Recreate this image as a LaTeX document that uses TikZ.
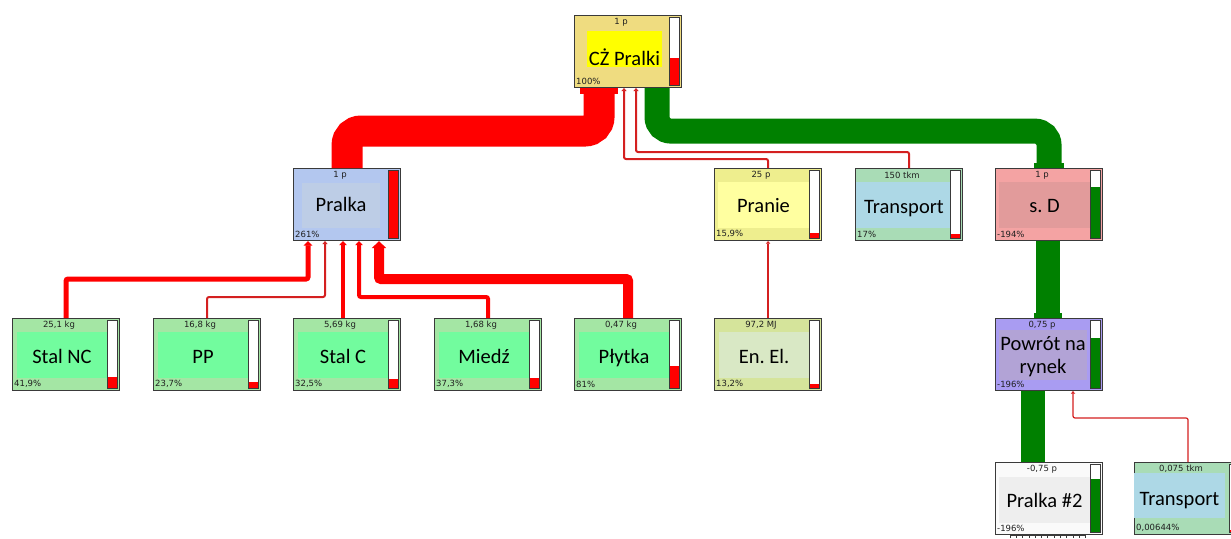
\documentclass[tikz,border=0pt]{standalone}
\usepackage{fontspec}
\usetikzlibrary{arrows.meta}
\newfontfamily\lblfont{Carlito}
\newfontfamily\smfont{DejaVu Sans}
\frenchspacing
\definecolor{bordc}{HTML}{3A3A3A}
\definecolor{czout}{HTML}{EFDC80}
\definecolor{czlbl}{HTML}{FFFF00}
\definecolor{prout}{HTML}{B3C7EF}
\definecolor{prlbl}{HTML}{BDCDE6}
\definecolor{pnout}{HTML}{EEEE8E}
\definecolor{pnlbl}{HTML}{FFFFA0}
\definecolor{trout}{HTML}{A9DCB6}
\definecolor{trlbl}{HTML}{ADD8E6}
\definecolor{sdout}{HTML}{F4A3A3}
\definecolor{sdlbl}{HTML}{E29B9B}
\definecolor{mtout}{HTML}{A4E6A4}
\definecolor{mtlbl}{HTML}{72FC9E}
\definecolor{eeout}{HTML}{D5E49B}
\definecolor{eelbl}{HTML}{D9E8C5}
\definecolor{pwout}{HTML}{A99CF2}
\definecolor{pwlbl}{HTML}{B2A3D6}
\definecolor{ptout}{HTML}{FAFAFA}
\definecolor{ptlbl}{HTML}{EEEEEE}
\definecolor{flowred}{HTML}{FF0000}
\definecolor{thinred}{HTML}{D42020}
\definecolor{flowgreen}{HTML}{008000}
\definecolor{smtxt}{HTML}{202020}
\tikzset{
  procbox/.style={rectangle, anchor=north west, minimum width=107pt, minimum height=72pt, inner sep=0pt, draw=bordc, line width=1.1pt},
  lbltext/.style={font=\lblfont\fontsize{20.5}{22}\selectfont, anchor=base, inner sep=0pt, text=black},
  amttext/.style={font=\smfont\fontsize{8.5}{9}\selectfont, inner sep=0pt, text=smtxt},
  pcttext/.style={font=\smfont\fontsize{8.5}{9}\selectfont, inner sep=0pt, anchor=west, text=smtxt},
  barframe/.style={draw=bordc, line width=1pt},
  thickflow/.style={line width=#1, -{Rectangle[length=0pt 0.2, width=0pt 1.2]}, rounded corners=14pt},
  thinflow/.style={line width=#1, -{Triangle[length=2pt 0.5, width=3pt 1.1]}, rounded corners=2pt},
}
\newcommand\setlbl[5]{\def\lx{#1}\def\ly{#2}\def\lxx{#3}\def\lyy{#4}\def\lby{#5}}
\newcommand\pbox[9]{%
  \node[procbox, fill=#3] (#1) at (#2) {};
  \begin{scope}[shift={(#1.north west)}]
    \fill[#4] (\lx,\ly) rectangle (\lxx,\lyy);
    \node[lbltext] at ({(\lx+\lxx)/2},\lby) {#6};
    \node[amttext] at (47,7) {#5};
    \node[pcttext] at (2,66) {#7};
    \fill[white] (95,2) rectangle (105,70);
    \fill[#9] (95,70) rectangle (105,{70-#8});
    \draw[barframe] (95,2) rectangle (105,70);
  \end{scope}}
\begin{document}
\begin{tikzpicture}[x=1pt, y=-1pt]
\path[use as bounding box, clip] (0,0) rectangle (1231,538);
\fill[white] (0,0) rectangle (1231,538);

% row 1
\setlbl{13}{16}{88}{52}{50}
\pbox{cz}{574,15}{czout}{czlbl}{1 p}{CŻ Pralki}{100\%}{27}{flowred}
% row 2
\setlbl{9}{15}{87}{60}{43}
\pbox{pralka}{293,168}{prout}{prlbl}{1 p}{Pralka}{261\%}{68}{flowred}
\setlbl{4}{14}{95}{60}{44}
\pbox{pranie}{714,168}{pnout}{pnlbl}{25 p}{Pranie}{15,9\%}{5}{flowred}
\setlbl{1}{14}{97}{60}{45}
\pbox{transp}{855,168}{trout}{trlbl}{150 tkm}{Transport}{17\%}{4}{flowred}
\setlbl{4}{14}{95}{60}{44}
\pbox{sd}{995,168}{sdout}{sdlbl}{1 p}{s. D}{-194\%}{51}{flowgreen}
% row 3
\setlbl{5}{14}{95}{60}{45}
\pbox{stalnc}{12,318}{mtout}{mtlbl}{25,1 kg}{Stal NC}{41,9\%}{11}{flowred}
\pbox{pp}{153,318}{mtout}{mtlbl}{16,8 kg}{PP}{23,7\%}{6}{flowred}
\pbox{stalc}{293,318}{mtout}{mtlbl}{5,69 kg}{Stal C}{32,5\%}{9}{flowred}
\pbox{miedz}{434,318}{mtout}{mtlbl}{1,68 kg}{Miedź}{37,3\%}{10}{flowred}
\pbox{plytka}{574,318}{mtout}{mtlbl}{0,47 kg}{Płytka}{81\%}{22}{flowred}
\pbox{enel}{714,318}{eeout}{eelbl}{97,2 MJ}{En. El.}{13,2\%}{4}{flowred}
\setlbl{4}{12}{92}{62}{32}
\pbox{powrot}{995,318}{pwout}{pwlbl}{0,75 p}{Powrót na}{-196\%}{50}{flowgreen}
\node[lbltext] at (1043,373) {rynek};
% row 4
\setlbl{4}{15}{95}{61}{45}
\pbox{pralkab}{995,462}{ptout}{ptlbl}{-0,75 p}{Pralka \#2}{-196\%}{53}{flowgreen}
\setlbl{0}{11}{91}{56}{43}
\pbox{transpb}{1134,462}{trout}{trlbl}{0,075 tkm}{Transport}{0,00644\%}{2}{flowred}

% comb below Pralka #2
\draw[bordc, line width=0.8pt] (1010,535) -- (1086,535);
\foreach \i in {0,...,12} \draw[bordc, line width=0.8pt] ({1010+6.3*\i},535) -- ++(0,3);

% thick flows
\draw[thickflow=31pt, draw=flowred] (pralka.north) -- ++(0,-37) -| ([xshift=25pt]cz.south west);
\draw[thickflow=25pt, draw=flowgreen] ([xshift=83pt]cz.south west) -- ++(0,43) -| (sd.north);
\draw[thickflow=24pt, draw=flowgreen] ([xshift=53pt]sd.south west) -- ([xshift=53pt]powrot.north west);
\draw[line width=24pt, draw=flowgreen] ([xshift=38pt]powrot.south west) -- ([xshift=38pt]pralkab.north west);

% thin flows to CZ
\draw[thinflow=2pt, draw=thinred] (pranie.north) -- ++(0,-9) -| ([xshift=50pt]cz.south west);
\draw[thinflow=2pt, draw=thinred] (transp.north) -- ++(0,-16) -| ([xshift=62pt]cz.south west);
% inputs to Pralka
\draw[thinflow=5pt, draw=flowred] (stalnc.north) -- ++(0,-39) -| ([xshift=15pt]pralka.south west);
\draw[thinflow=2pt, draw=thinred] (pp.north) -- ++(0,-21) -| ([xshift=32pt]pralka.south west);
\draw[thinflow=4pt, draw=flowred] ([xshift=50pt]stalc.north west) -- ([xshift=50pt]pralka.south west);
\draw[thinflow=4pt, draw=flowred] (miedz.north) -- ++(0,-21) -| ([xshift=66pt]pralka.south west);
\draw[thinflow=10pt, draw=flowred] (plytka.north) -- ++(0,-39) -| ([xshift=86pt]pralka.south west);
% En. El. to Pranie
\draw[thinflow=1.2pt, draw=thinred] (enel.north) -- (pranie.south);
% Transport to Powrot
\draw[thinflow=1.2pt, draw=thinred] (transpb.north) -- ++(0,-44) -| ([xshift=78pt]powrot.south west);
\end{tikzpicture}
\end{document}
